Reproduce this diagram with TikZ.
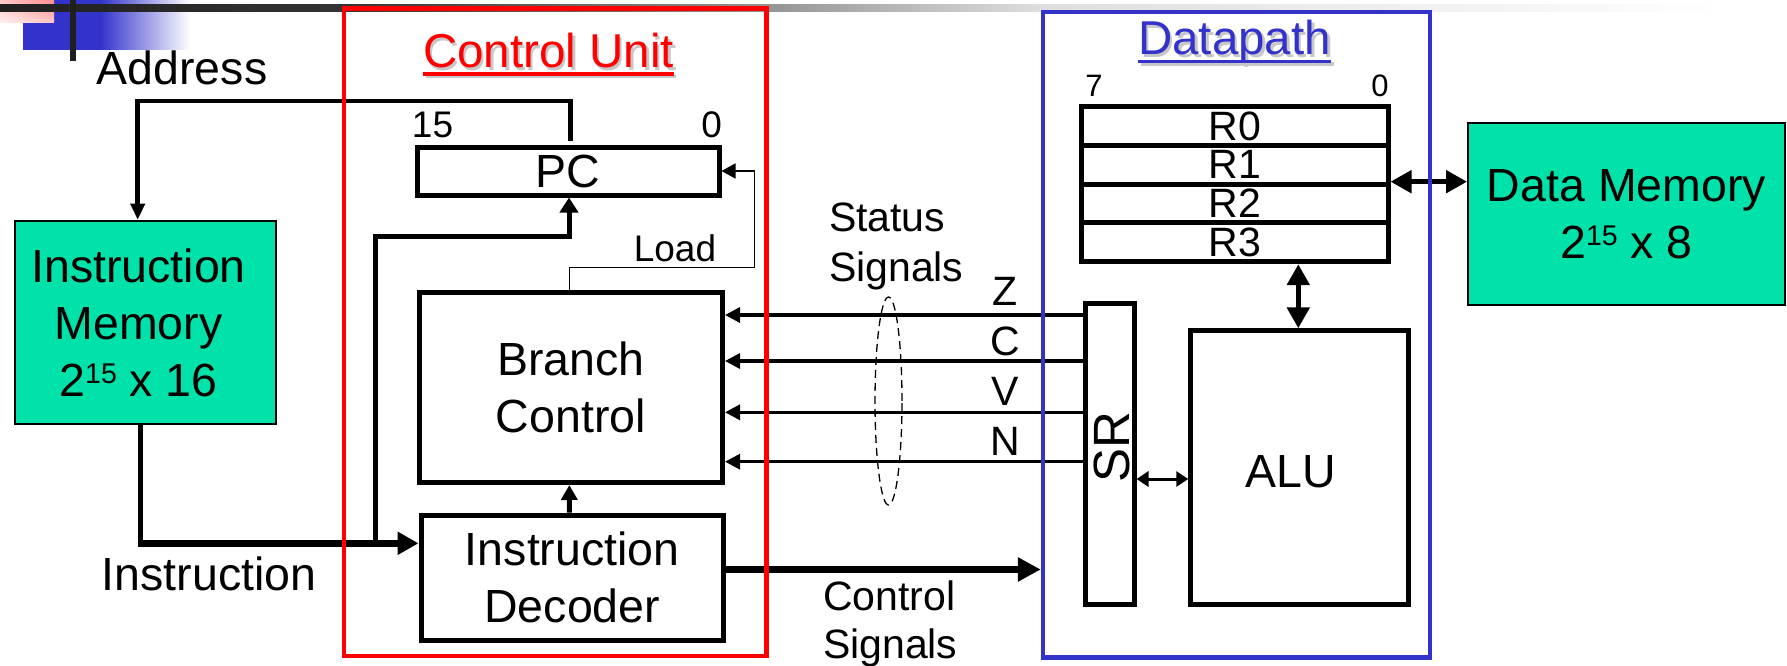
\documentclass[tikz,border=0pt]{standalone}
\usepackage{fontspec}
\setmainfont{Liberation Sans}
\usetikzlibrary{arrows.meta,shapes.geometric,shadings}
\definecolor{cured}{RGB}{255,0,0}
\definecolor{dpblue}{RGB}{51,51,204}
\definecolor{memgreen}{RGB}{0,226,170}
\newcommand\supx[1]{\raisebox{13.3pt}{\fontsize{28.5}{28.5}\selectfont #1}}
\pgfdeclarelayer{fg}
\pgfsetlayers{main,fg}
\begin{document}
\begin{tikzpicture}[x=1pt,y=-1pt,
  big/.style={font=\fontsize{46.5}{57}\selectfont},
  title/.style={font=\fontsize{47.5}{57}\selectfont},
  mid/.style={font=\fontsize{41}{50}\selectfont},
  small/.style={font=\fontsize{37}{44}\selectfont},
  regf/.style={font=\fontsize{41}{44}\selectfont},
  tiny/.style={font=\fontsize{31}{36}\selectfont},
  lbl/.style={inner sep=0pt, outer sep=0pt},
  blk/.style={draw=black, line width=5pt, fill=white, inner sep=0pt},
  mem/.style={draw=black, line width=2pt, fill=memgreen, inner sep=0pt},
  frame/.style={line width=4.5pt, inner sep=0pt, fill=none},
  tipS/.style={-{Triangle[length=15pt,width=15pt]}},
  dblS/.style={{Triangle[length=12pt,width=15pt]}-{Triangle[length=12pt,width=15pt]}},
  dblB/.style={{Triangle[length=21pt,width=22pt]}-{Triangle[length=21pt,width=22pt]}},
]
\useasboundingbox (0,0) rectangle (1787,666);

% slide decoration
\fill[dpblue] (23,0) rectangle (100,50);
\shade[left color=dpblue, right color=white] (100,0) rectangle (190,50);
\shade[upper right=red!45, upper left=red!22, lower right=red!22, lower left=red!6] (0,0) rectangle (54,23);
\shade[left color=black!88, right color=black!80] (0,5) rectangle (343,11.7);
\shade[left color=black!80, right color=black!42] (343,5) rectangle (766,11.7);
\shade[left color=black!42, right color=black!13] (766,5) rectangle (1040,11.7);
\shade[left color=black!13, right color=white] (1040,5) rectangle (1720,11.7);
\fill[black!88] (70,0) rectangle (75.6,61);

% frames (on top)
\begin{pgfonlayer}{fg}
\node[frame, draw=cured, minimum width=422.7pt, minimum height=647.5pt] (cub) at (555.35,332.25) {};
\node[frame, draw=dpblue, minimum width=387pt, minimum height=645.3pt] (dp) at (1236.5,334.65) {};
\end{pgfonlayer}

% titles
\node[title, lbl, anchor=base, text=black!22] (cush) at (551,70.5) {Control Unit};
\node[title, lbl, anchor=base, text=cured] (cu) at (548.5,68) {Control Unit};
\draw[black!22, line width=3.5pt] ([shift={(2.5,8.5)}]cu.base west) -- ([shift={(2.5,8.5)}]cu.base east);
\draw[cured, line width=3.5pt] ([shift={(0,6)}]cu.base west) -- ([shift={(0,6)}]cu.base east);
\node[title, lbl, anchor=base, text=black!22] (dpsh) at (1237.1,57.5) {Datapath};
\node[title, lbl, anchor=base, text=dpblue] (dpt) at (1234.6,55) {Datapath};
\draw[black!22, line width=3.5pt] ([shift={(2.5,9.2)}]dpt.base west) -- ([shift={(2.5,9.2)}]dpt.base east);
\draw[dpblue, line width=3.5pt] ([shift={(0,6.7)}]dpt.base west) -- ([shift={(0,6.7)}]dpt.base east);

% memories
\node[mem, minimum width=261pt, minimum height=203.3pt] (im) at (145.5,322.35) {};
\node[big, lbl, align=center] (imt) at (138.5,322.7) {Instruction\\Memory\\2\supx{15} x 16};
\node[mem, big, align=center, minimum width=317pt, minimum height=181.7pt] (dm) at (1626.5,214.15) {Data Memory\\2\supx{15} x 8};

% control unit blocks
\node[blk, big, minimum width=302pt, minimum height=48pt] (pc) at (568,171) {PC};
\node[blk, big, align=center, minimum width=303.5pt, minimum height=190pt] (br) at (570.75,387.5) {Branch\\Control};
\node[blk, big, align=center, minimum width=302.5pt, minimum height=125pt] (dec) at (572.25,577.5) {Instruction\\Decoder};

% datapath blocks
\node[blk, regf, minimum width=306.3pt, minimum height=38.75pt] (r0) at (1234.85,126.1) {R0};
\node[blk, regf, minimum width=306.3pt, minimum height=38.75pt] (r1) at (1234.85,164.85) {R1};
\node[blk, regf, minimum width=306.3pt, minimum height=38.75pt] (r2) at (1234.85,203.6) {R2};
\node[blk, regf, minimum width=306.3pt, minimum height=38.75pt] (r3) at (1234.85,242.35) {R3};
\node[blk, minimum width=48.5pt, minimum height=301.5pt] (sr) at (1109.75,453.75) {};
\node[lbl, rotate=90, font=\fontsize{51}{51}\selectfont] (srt) at (1111.7,446.7) {SR};
\node[blk, minimum width=217.2pt, minimum height=273.7pt] (alu) at (1299.4,467.65) {};
\node[big, lbl] (alut) at (1291,471.7) {ALU};

% labels
\node[big, lbl, anchor=base] (addr) at (182,85) {Address};
\node[small, lbl, anchor=base] (b15) at (432.5,138) {15};
\node[small, lbl, anchor=base] (b0) at (711.7,138) {0};
\node[small, lbl, anchor=base] (load) at (675,261.7) {Load};
\node[big, lbl, anchor=base] (instl) at (209,590) {Instruction};
\node[mid, lbl, anchor=base west] (st1) at (829,231.7) {Status};
\node[mid, lbl, anchor=base west] (st2) at (829,281.7) {Signals};
\node[mid, lbl, anchor=base west] (cs1) at (823,610) {Control};
\node[mid, lbl, anchor=base west] (cs2) at (823,658) {Signals};
\node[mid, lbl, anchor=base] (lz) at (1005,305) {Z};
\node[mid, lbl, anchor=base] (lc) at (1005,355) {C};
\node[mid, lbl, anchor=base] (lv) at (1005,405) {V};
\node[mid, lbl, anchor=base] (ln) at (1005,455) {N};
\node[tiny, lbl, anchor=base] (r7b) at (1094,97) {7};
\node[tiny, lbl, anchor=base] (r0b) at (1380,97) {0};
\node[ellipse, draw, line width=1.3pt, dash pattern=on 8pt off 5pt, inner sep=0pt, minimum width=27pt, minimum height=208pt] (ssel) at (888.5,401) {};

% connectors
\draw[line width=4.7pt, -{Triangle[length=16pt,width=14pt]}] ([xshift=2.7pt,yshift=4pt]pc.north) -- ++(0,-39.5) -| ([xshift=-7.8pt]im.north);
\draw[line width=5pt] ([xshift=-5.5pt]im.south) -- ++(0,118.3) coordinate (ij);
\draw[line width=7pt, -{Triangle[length=21pt,width=22pt]}] ([xshift=-2.5pt]ij) -- (dec.west |- ij);
\coordinate (ipc) at (375.7,543.3);
\draw[line width=5pt, -{Triangle[length=15pt,width=18pt]}] (ipc) -- ++(0,-306.6) -| ([xshift=1pt]pc.south);
\draw[line width=1.5pt, -{Triangle[length=14pt,width=15pt]}] ([xshift=-1.5pt]br.north) -- ++(0,-22.7) -- ++(185,0) |- (pc.east);
\draw[line width=5pt, -{Triangle[length=15pt,width=16pt]}] ([xshift=-2.9pt]dec.north) -- ([xshift=-1.45pt]br.south);
\draw[line width=3.3pt, tipS] (sr.west |- 0,315) -- (br.east |- 0,315);
\draw[line width=3.3pt, tipS] (sr.west |- 0,361) -- (br.east |- 0,361);
\draw[line width=3.3pt, tipS] (sr.west |- 0,412.3) -- (br.east |- 0,412.3);
\draw[line width=3.3pt, tipS] (sr.west |- 0,461.7) -- (br.east |- 0,461.7);
\draw[line width=7.5pt, -{Triangle[length=23pt,width=23pt]}] (dec.east |- 0,569.5) -- (dp.west |- 0,569.5);
\draw[line width=3pt, dblS] (sr.east |- 0,479) -- (alu.west |- 0,479);
\draw[line width=5.5pt, dblB] (r3.south -| 1298.3,0) -- (alu.north -| 1298.3,0);
\draw[line width=5pt, dblB] (r1.east |- 0,181.7) -- (dm.west |- 0,181.7);
\end{tikzpicture}
\end{document}
